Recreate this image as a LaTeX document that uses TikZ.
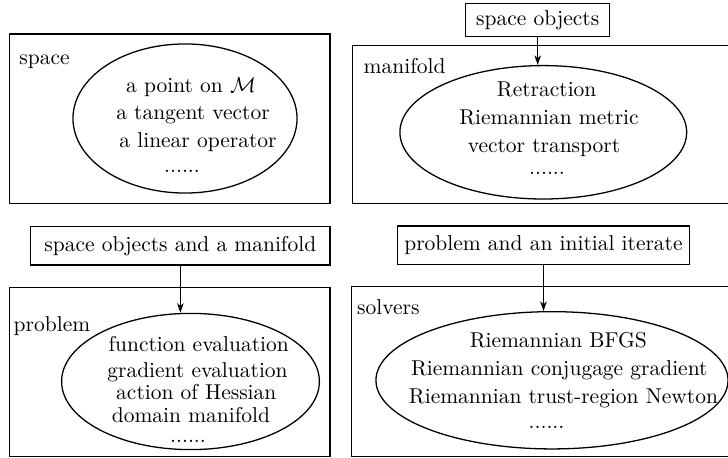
\documentclass[tikz,border=0pt]{standalone}
\usetikzlibrary{arrows.meta,shapes.geometric}
\begin{document}
\begin{tikzpicture}[x=0.4655pt,y=-0.4655pt,
  container/.style={draw,line width=0.6pt,rectangle,inner sep=0pt},
  oval/.style={draw,line width=0.6pt,ellipse,inner sep=0pt},
  inbox/.style={draw,line width=0.6pt,rectangle,inner sep=0pt,font=\fontsize{10}{12}\selectfont},
  txt/.style={anchor=base,inner sep=0pt,font=\fontsize{10}{12}\selectfont},
  ttl/.style={anchor=base west,inner sep=0pt,font=\fontsize{10}{12}\selectfont},
  arr/.style={line width=0.6pt,-{Stealth[length=4.4pt,width=3pt,inset=1.2pt]}}]
\useasboundingbox (0,0) rectangle (728,458);
% containers
\node[container,minimum width=149.3pt,minimum height=78.8pt] (spacebox) at (169.65,118.65) {};
\node[container,minimum width=182.8pt,minimum height=73.4pt] (manibox) at (548.65,124.5) {};
\node[container,minimum width=149.3pt,minimum height=78.9pt] (probbox) at (169.65,372) {};
\node[container,minimum width=183.1pt,minimum height=79.0pt] (solvbox) at (548.35,371.4) {};
% titles
\node[ttl] (t1) at (19,65) {space};
\node[ttl] (t2) at (363.3,73.3) {manifold};
\node[ttl] (t3) at (13.3,331.7) {problem};
\node[ttl] (t4) at (356.7,315) {solvers};
% ellipses
\node[oval,minimum width=104.3pt,minimum height=69.4pt] (E1) at (185,118.5) {};
\node[oval,minimum width=133.5pt,minimum height=62.1pt] (E2) at (543.3,132.3) {};
\node[oval,minimum width=120.0pt,minimum height=63.4pt] (E3) at (190.5,381.5) {};
\node[oval,minimum width=163.9pt,minimum height=63.9pt] (E4) at (552,380.3) {};
% ellipse contents
\node[txt] (a1) at (191,93) {a point on $\mathcal{M}$};
\node[txt] (a2) at (193,120) {a tangent vector};
\node[txt] (a3) at (198,148) {a linear operator};
\node[txt] (a4) at (182,173) {......};
\node[txt] (b1) at (546.7,96.7) {Retraction};
\node[txt] (b2) at (549,125) {Riemannian metric};
\node[txt] (b3) at (544,153) {vector transport};
\node[txt] (b4) at (547,175) {......};
\node[txt] (c1) at (198.7,351.7) {function evaluation};
\node[txt] (c2) at (197.5,377.3) {gradient evaluation};
\node[txt] (c3) at (196.3,399.7) {action of Hessian};
\node[txt] (c4) at (191,422.3) {domain manifold};
\node[txt] (c5) at (188,442.3) {......};
\node[txt] (d1) at (558.3,347.3) {Riemannian BFGS};
\node[txt] (d2) at (559.3,375.7) {Riemannian conjugage gradient};
\node[txt] (d3) at (563.5,404) {Riemannian trust-region Newton};
\node[txt] (d4) at (546.5,429) {......};
% input boxes
\node[inbox,minimum width=67.0pt,minimum height=15.5pt] (in2) at (537.7,20) {space objects};
\node[inbox,minimum width=139.3pt,minimum height=17.8pt] (in3) at (180.35,245.85) {space objects and a manifold};
\node[inbox,minimum width=136.1pt,minimum height=17.8pt] (in4) at (543.5,245.15) {problem and an initial iterate};
% arrows
\draw[arr] (in2.south) -- (in2.south |- E2.north);
\draw[arr] (in3.south) -- (in3.south |- E3.north);
\draw[arr] (in4.south) -- (in4.south |- E4.north);
\end{tikzpicture}
\end{document}
